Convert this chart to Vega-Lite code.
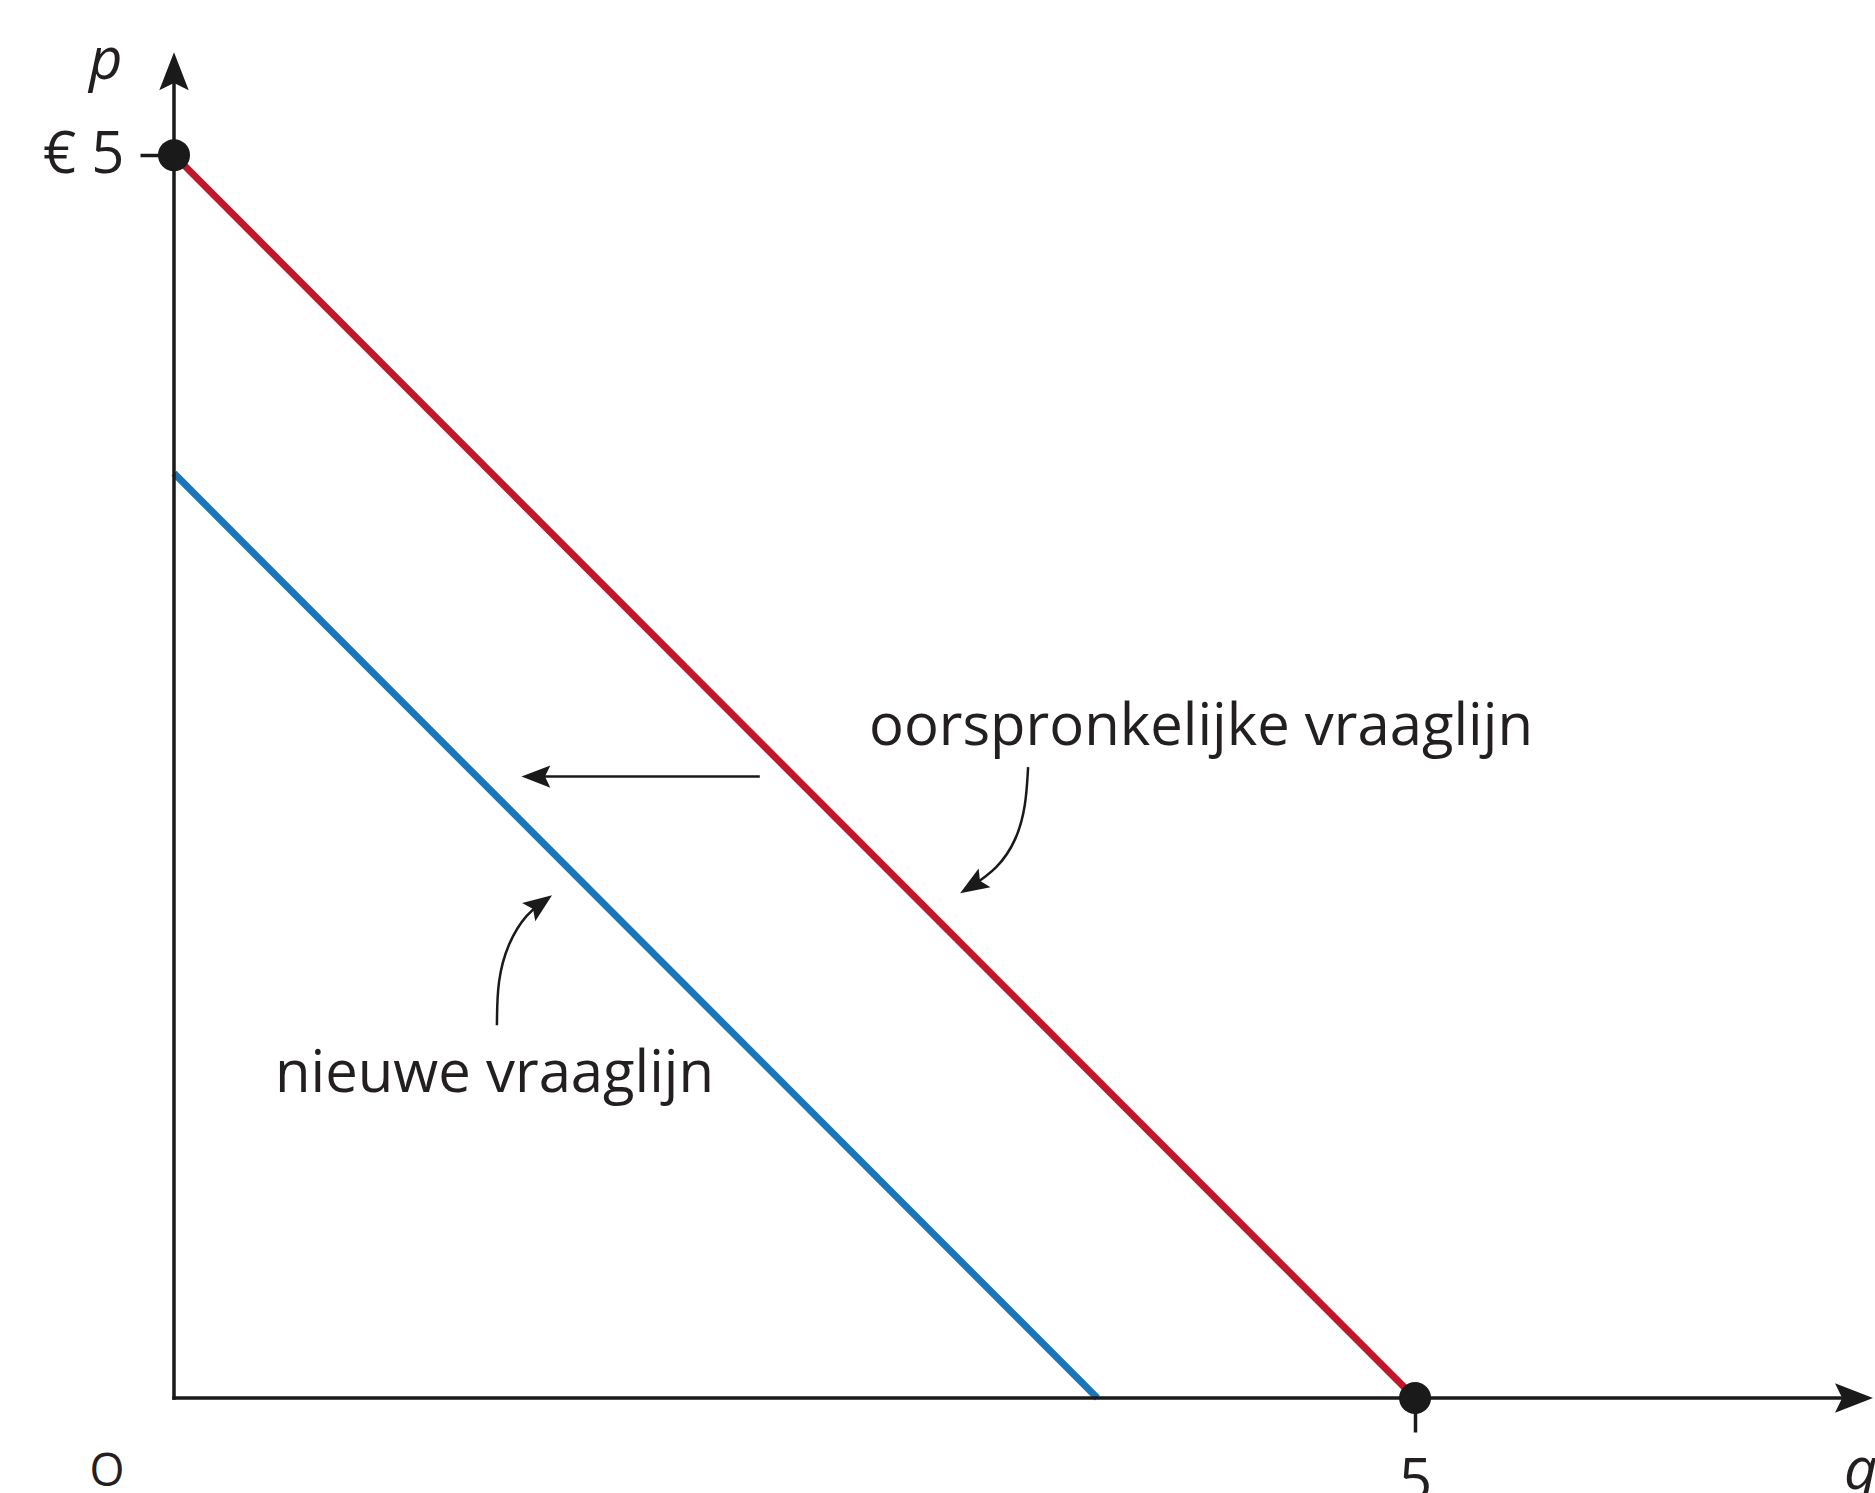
{
  "$schema": "https://vega.github.io/schema/vega-lite/v6.json",
  "width": 1701,
  "height": 1392,
  "autosize": "none",
  "padding": {"left": 174, "top": 6, "right": 0, "bottom": 95},
  "background": "white",
  "config": {"view": {"stroke": null}, "font": "Open Sans"},
  "datasets": {
    "vraag": [
      {"q": 0, "p": 5, "lijn": "oorspronkelijk"},
      {"q": 5, "p": 0, "lijn": "oorspronkelijk"},
      {"q": 0, "p": 3.72, "lijn": "nieuw"},
      {"q": 3.72, "p": 0, "lijn": "nieuw"}
    ],
    "assen": [
      {"q": 0, "p": 0, "q2": 6.8, "p2": 0},
      {"q": 0, "p": 0, "q2": 0, "p2": 5.36}
    ],
    "verschuiving": [
      {"q": 2.36, "p": 2.5, "q2": 1.45, "p2": 2.5}
    ],
    "bogen": [
      {"pijl": "oorspronkelijk", "i": 0, "q": 3.441, "p": 2.538},
      {"pijl": "oorspronkelijk", "i": 1, "q": 3.432, "p": 2.38},
      {"pijl": "oorspronkelijk", "i": 2, "q": 3.395, "p": 2.245},
      {"pijl": "oorspronkelijk", "i": 3, "q": 3.32, "p": 2.13},
      {"pijl": "oorspronkelijk", "i": 4, "q": 3.2, "p": 2.05},
      {"pijl": "nieuw", "i": 0, "q": 1.301, "p": 1.5},
      {"pijl": "nieuw", "i": 1, "q": 1.303, "p": 1.68},
      {"pijl": "nieuw", "i": 2, "q": 1.345, "p": 1.83},
      {"pijl": "nieuw", "i": 3, "q": 1.42, "p": 1.95},
      {"pijl": "nieuw", "i": 4, "q": 1.5, "p": 2.006}
    ],
    "punten": [
      {"q": 0, "p": 5},
      {"q": 5, "p": 0}
    ],
    "teksten": [
      {"q": 2.8, "p": 2.627, "t": "oorspronkelijke vraaglijn"},
      {"q": 0.407, "p": 1.231, "t": "nieuwe vraaglijn"}
    ]
  },
  "encoding": {
    "x": {
      "field": "q",
      "type": "quantitative",
      "scale": {"domain": [0, 6.853], "nice": false, "zero": false},
      "axis": {
        "values": [5],
        "domain": false,
        "grid": false,
        "tickSize": 34,
        "tickWidth": 3.5,
        "tickColor": "#1a1a1a",
        "labelFont": "Open Sans",
        "labelFontSize": 58,
        "labelColor": "#231f20",
        "labelPadding": 21,
        "labelFlush": false,
        "labelOverlap": false,
        "title": null
      }
    },
    "y": {
      "field": "p",
      "type": "quantitative",
      "scale": {"domain": [0, 5.6], "nice": false, "zero": false},
      "axis": {
        "values": [5],
        "domain": false,
        "grid": false,
        "tickSize": 34,
        "tickWidth": 3.5,
        "tickColor": "#1a1a1a",
        "labelExpr": "'€ 5'",
        "labelFont": "Open Sans",
        "labelFontSize": 58,
        "labelColor": "#231f20",
        "labelPadding": 16,
        "labelBaseline": "middle",
        "labelFlush": false,
        "labelOverlap": false,
        "title": null
      }
    }
  },
  "layer": [
    {
      "data": {"name": "vraag"},
      "mark": {"type": "line", "strokeWidth": 7, "strokeCap": "butt"},
      "encoding": {
        "color": {
          "field": "lijn",
          "type": "nominal",
          "scale": {"domain": ["oorspronkelijk", "nieuw"], "range": ["#c0182a", "#1a76b9"]},
          "legend": null
        },
        "detail": {"field": "lijn"}
      }
    },
    {
      "data": {"name": "assen"},
      "mark": {"type": "rule", "strokeWidth": 3.5, "color": "#1a1a1a", "strokeCap": "square"},
      "encoding": {
        "x2": {"field": "q2"},
        "y2": {"field": "p2"}
      }
    },
    {
      "data": {"name": "verschuiving"},
      "mark": {"type": "rule", "strokeWidth": 2.5, "color": "#1a1a1a"},
      "encoding": {
        "x2": {"field": "q2"},
        "y2": {"field": "p2"}
      }
    },
    {
      "data": {"name": "bogen"},
      "mark": {"type": "line", "strokeWidth": 2.5, "color": "#1a1a1a", "interpolate": "basis"},
      "encoding": {
        "detail": {"field": "pijl"},
        "order": {"field": "i", "type": "quantitative"}
      }
    },
    {
      "data": {"values": [{"q": 0, "p": 5.414}]},
      "mark": {"type": "point", "shape": "M0,0L0.62,1.6L0,1.3L-0.62,1.6Z", "filled": true, "opacity": 1, "color": "#1a1a1a", "size": 2256, "angle": 0, "strokeWidth": 0}
    },
    {
      "data": {"values": [{"q": 6.845, "p": 0}]},
      "mark": {"type": "point", "shape": "M0,0L0.62,1.6L0,1.3L-0.62,1.6Z", "filled": true, "opacity": 1, "color": "#1a1a1a", "size": 2256, "angle": 90, "strokeWidth": 0}
    },
    {
      "data": {"values": [{"q": 1.4, "p": 2.5}]},
      "mark": {"type": "point", "shape": "M0,0L0.62,1.6L0,1.3L-0.62,1.6Z", "filled": true, "opacity": 1, "color": "#1a1a1a", "size": 1300, "angle": 270, "strokeWidth": 0}
    },
    {
      "data": {"values": [{"q": 3.167, "p": 2.031}]},
      "mark": {"type": "point", "shape": "M0,0L0.62,1.6L0,1.3L-0.62,1.6Z", "filled": true, "opacity": 1, "color": "#1a1a1a", "size": 1300, "angle": 238, "strokeWidth": 0}
    },
    {
      "data": {"values": [{"q": 1.523, "p": 2.023}]},
      "mark": {"type": "point", "shape": "M0,0L0.62,1.6L0,1.3L-0.62,1.6Z", "filled": true, "opacity": 1, "color": "#1a1a1a", "size": 1300, "angle": 54, "strokeWidth": 0}
    },
    {
      "data": {"name": "punten"},
      "mark": {"type": "point", "shape": "circle", "filled": true, "opacity": 1, "color": "#1a1a1a", "size": 1024, "strokeWidth": 0}
    },
    {
      "data": {"name": "teksten"},
      "mark": {"type": "text", "align": "left", "baseline": "alphabetic", "font": "Open Sans", "fontSize": 58, "color": "#231f20"},
      "encoding": {"text": {"field": "t"}}
    },
    {
      "data": {"values": [
        {"q": -0.278, "p": 5.306, "t": "p"},
        {"q": 6.793, "p": -0.366, "t": "q"}
      ]},
      "mark": {"type": "text", "align": "left", "dx": -16, "baseline": "alphabetic", "font": "Open Sans", "fontStyle": "italic", "fontSize": 58, "color": "#231f20"},
      "encoding": {"text": {"field": "t"}}
    },
    {
      "data": {"values": [{"q": -0.27, "p": -0.355, "t": "O"}]},
      "mark": {"type": "text", "align": "center", "baseline": "alphabetic", "font": "Open Sans", "fontSize": 45, "color": "#231f20"},
      "encoding": {"text": {"field": "t"}}
    }
  ]
}
